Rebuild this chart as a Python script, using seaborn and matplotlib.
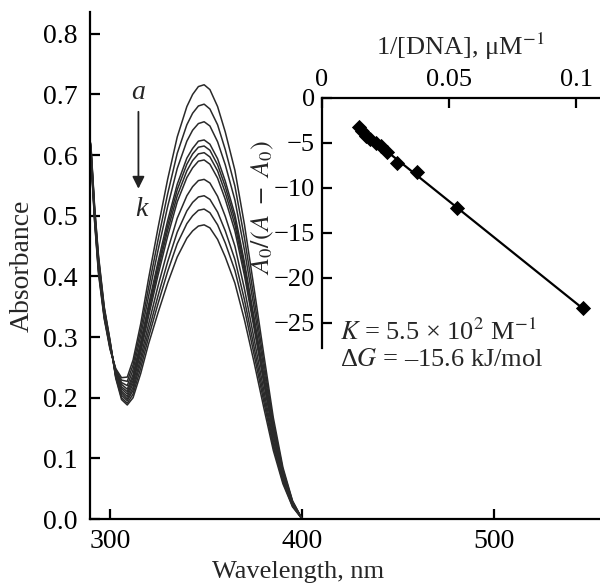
import numpy as np
import pandas as pd
import matplotlib
matplotlib.use("Agg")
import matplotlib.pyplot as plt
import seaborn as sns

sns.set_theme(style="ticks")
plt.rcParams['font.family'] = ['Liberation Serif', 'DejaVu Serif']
plt.rcParams['mathtext.fontset'] = 'stix'

# ---------------------------------------------------------------
# spectra a..k (absorbance)
# ---------------------------------------------------------------
wavelength = [290, 292, 294, 297, 300, 303, 306, 309, 312, 316, 320, 325, 330, 335,
              340, 343, 346, 349, 352, 356, 360, 365, 370, 375, 380, 385, 390, 395, 400]

spec_a = [0.600, 0.490, 0.405, 0.330, 0.280, 0.248, 0.233, 0.234, 0.262, 0.322, 0.395, 0.480, 0.560, 0.630,
          0.680, 0.700, 0.713, 0.716, 0.708, 0.680, 0.638, 0.575, 0.485, 0.380, 0.272, 0.167, 0.085, 0.030, 0.0]
spec_b = [0.602, 0.492, 0.408, 0.332, 0.282, 0.246, 0.229, 0.227, 0.254, 0.312, 0.380, 0.460, 0.536, 0.603,
          0.650, 0.669, 0.681, 0.684, 0.676, 0.650, 0.609, 0.549, 0.463, 0.363, 0.260, 0.159, 0.081, 0.029, 0.0]
spec_c = [0.604, 0.495, 0.411, 0.334, 0.283, 0.245, 0.225, 0.220, 0.246, 0.302, 0.366, 0.443, 0.515, 0.578,
          0.623, 0.641, 0.652, 0.655, 0.648, 0.622, 0.584, 0.526, 0.443, 0.348, 0.249, 0.153, 0.078, 0.028, 0.0]
spec_d = [0.606, 0.497, 0.414, 0.336, 0.285, 0.243, 0.222, 0.214, 0.238, 0.292, 0.352, 0.424, 0.492, 0.552,
          0.595, 0.611, 0.623, 0.625, 0.618, 0.594, 0.557, 0.502, 0.423, 0.332, 0.238, 0.146, 0.074, 0.026, 0.0]
spec_e = [0.608, 0.500, 0.417, 0.338, 0.286, 0.242, 0.218, 0.210, 0.233, 0.287, 0.346, 0.417, 0.484, 0.543,
          0.585, 0.602, 0.613, 0.615, 0.608, 0.584, 0.548, 0.494, 0.416, 0.327, 0.234, 0.143, 0.073, 0.026, 0.0]
spec_f = [0.610, 0.502, 0.420, 0.340, 0.288, 0.240, 0.215, 0.206, 0.228, 0.281, 0.340, 0.410, 0.476, 0.533,
          0.574, 0.591, 0.602, 0.604, 0.597, 0.574, 0.538, 0.485, 0.409, 0.321, 0.230, 0.141, 0.072, 0.025, 0.0]
spec_g = [0.612, 0.505, 0.423, 0.342, 0.289, 0.238, 0.211, 0.202, 0.223, 0.275, 0.333, 0.402, 0.466, 0.523,
          0.563, 0.579, 0.590, 0.592, 0.585, 0.562, 0.527, 0.475, 0.401, 0.314, 0.225, 0.138, 0.070, 0.025, 0.0]
spec_h = [0.614, 0.507, 0.426, 0.344, 0.291, 0.237, 0.208, 0.198, 0.217, 0.266, 0.320, 0.384, 0.443, 0.496,
          0.533, 0.548, 0.558, 0.560, 0.554, 0.532, 0.499, 0.450, 0.379, 0.297, 0.213, 0.130, 0.067, 0.024, 0.0]
spec_i = [0.616, 0.510, 0.429, 0.346, 0.292, 0.235, 0.204, 0.195, 0.212, 0.258, 0.309, 0.368, 0.424, 0.473,
          0.508, 0.522, 0.531, 0.533, 0.527, 0.506, 0.475, 0.428, 0.361, 0.283, 0.203, 0.124, 0.063, 0.022, 0.0]
spec_j = [0.618, 0.512, 0.432, 0.348, 0.294, 0.234, 0.200, 0.191, 0.206, 0.249, 0.299, 0.355, 0.408, 0.454,
          0.487, 0.500, 0.509, 0.511, 0.505, 0.485, 0.455, 0.410, 0.346, 0.271, 0.194, 0.119, 0.061, 0.021, 0.0]
spec_k = [0.620, 0.515, 0.435, 0.350, 0.295, 0.232, 0.197, 0.188, 0.200, 0.240, 0.288, 0.340, 0.389, 0.432,
          0.463, 0.475, 0.483, 0.485, 0.480, 0.461, 0.432, 0.389, 0.328, 0.258, 0.184, 0.113, 0.058, 0.020, 0.0]

curve_names = list("abcdefghijk")
spectra = [spec_a, spec_b, spec_c, spec_d, spec_e, spec_f, spec_g, spec_h, spec_i, spec_j, spec_k]

# ---------------------------------------------------------------
# double reciprocal plot (inset)
# ---------------------------------------------------------------
inv_dna = [0.0147, 0.0160, 0.0175, 0.0192, 0.0212, 0.0235, 0.0255, 0.0298, 0.0374, 0.0531, 0.1026]
ratio = [-3.22, -3.75, -4.25, -4.60, -5.00, -5.35, -6.00, -7.22, -8.20, -12.30, -23.40]

rows = []
for name, vals in zip(curve_names, spectra):
    for wl, v in zip(wavelength, vals):
        rows.append({'curve': name, 'wavelength': wl, 'absorbance': v})
spec_df = pd.DataFrame(rows)
inset_df = pd.DataFrame({'inv_dna': inv_dna, 'ratio': ratio})

fig = plt.figure(figsize=(6.0, 5.84), dpi=100)
ax = fig.add_axes([0.15, 0.1113, 0.85, 0.8682])

sns.lineplot(data=spec_df, x='wavelength', y='absorbance', hue='curve',
             palette={n: '#2a2a2a' for n in curve_names}, linewidth=1.1,
             legend=False, ax=ax, sort=False)

ax.set_xlim(289.6, 555)
ax.set_ylim(0, 0.836)
ax.set_xticks([300, 400, 500])
ax.set_yticks(np.arange(0, 0.81, 0.1))
ax.set_yticklabels([f"{v:.1f}" for v in np.arange(0, 0.81, 0.1)])
ax.set_xlabel("Wavelength, nm", fontsize=19)
ax.set_ylabel("Absorbance", fontsize=20)
ax.xaxis.set_label_coords(208 / 510, -0.083)
ax.yaxis.set_label_coords(-0.108, 0.5)
sns.despine(ax=ax)
for s in ['left', 'bottom']:
    ax.spines[s].set_linewidth(1.6)
    ax.spines[s].set_color('black')
ax.tick_params(direction='in', length=7, width=1.6, labelsize=20, colors='black', pad=9)
ax.tick_params(axis='x', pad=7)

ax.text(314.5, 0.704, "a", fontsize=20, style='italic', ha='center', va='center')
ax.text(316.2, 0.511, "k", fontsize=20, style='italic', ha='center', va='center')
ax.annotate("", xy=(314.8, 0.540), xytext=(314.8, 0.676),
            arrowprops=dict(arrowstyle='-|>', color='#222', lw=1.3, mutation_scale=18))

# inset
ins = fig.add_axes([0.536, 0.404, 0.4638, 0.4287])
ins.patch.set_alpha(0)
sns.regplot(data=inset_df, x='inv_dna', y='ratio', ci=None, truncate=True, ax=ins,
            marker='D', color='black', scatter_kws={'s': 60, 'linewidths': 0, 'alpha': 1},
            line_kws={'linewidth': 1.6})
ins.set_xlim(0, 0.1093)
ins.set_ylim(-27.8, 0)
ins.xaxis.tick_top()
ins.xaxis.set_label_position('top')
ins.set_xticks([0, 0.05, 0.1])
ins.set_xticklabels(["0", "0.05", "0.1"])
ins.set_yticks([0, -5, -10, -15, -20, -25])
ins.set_yticklabels(["0", "\u22125", "\u221210", "\u221215", "\u221220", "\u221225"])
ins.set_xlabel("1/[DNA], \u03bcM$^{-1}$", fontsize=19, labelpad=10)
ins.set_ylabel("$A_0/(A\\ -\\ A_0)$", fontsize=19, labelpad=0)
ins.yaxis.set_label_coords(-0.163, 0.56)
for s in ['right', 'bottom']:
    ins.spines[s].set_visible(False)
for s in ['left', 'top']:
    ins.spines[s].set_linewidth(1.6)
    ins.spines[s].set_color('black')
ins.tick_params(direction='in', length=7, width=1.6, labelsize=19, colors='black', pad=5)

ins.text(0.066, 0.064, "$K$ = 5.5 \u00d7 10$^2$ M$^{-1}$", transform=ins.transAxes,
         fontsize=19, ha='left', va='center')
ins.text(0.066, -0.048, "\u0394$G$ = \u201315.6 kJ/mol", transform=ins.transAxes,
         fontsize=19, ha='left', va='center')

fig.savefig("out.png", dpi=100)
